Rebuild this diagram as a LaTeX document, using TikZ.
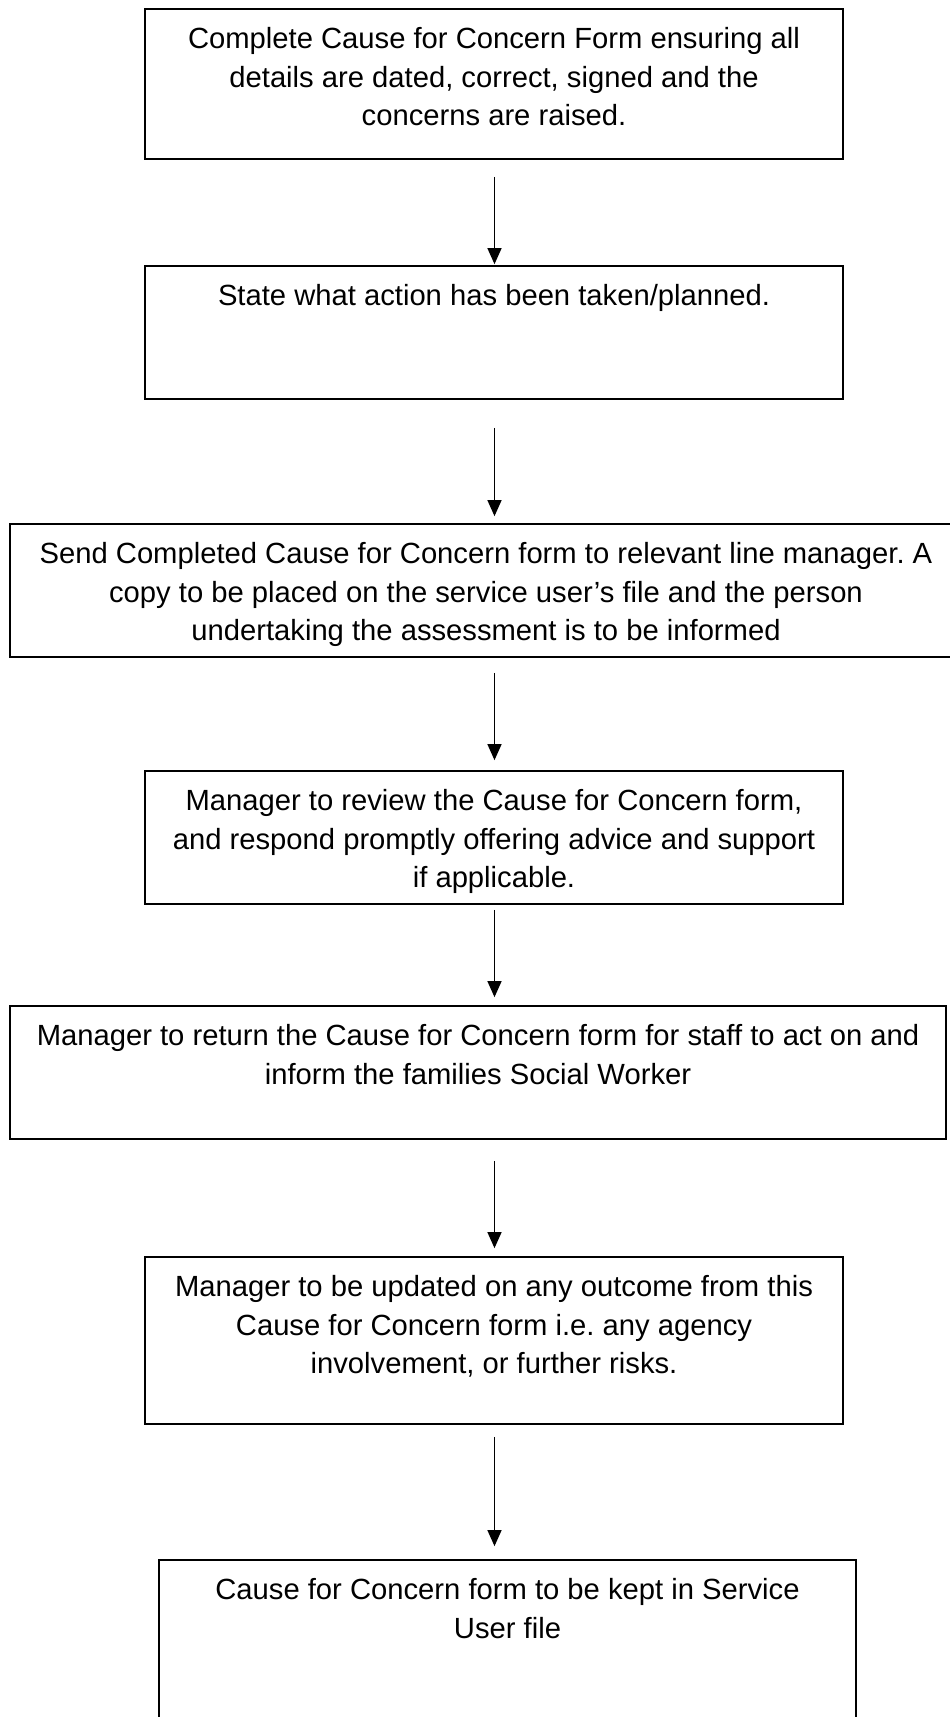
\documentclass[tikz,border=0pt]{standalone}
\usepackage{fontspec}
\setmainfont{Liberation Sans}
\usetikzlibrary{arrows.meta}
\frenchspacing
\begin{document}
\begin{tikzpicture}[x=1pt,y=-1pt,
  box/.style={draw=black, line width=1.7pt, rectangle, inner sep=0pt, minimum width=698pt},
  txt/.style={anchor=north, inner sep=0pt, align=center, font=\fontsize{29.2}{38.5}\selectfont\frenchspacing},
  arr/.style={line width=1.2pt, -{Triangle[length=16pt,width=14pt]}}]
\useasboundingbox (0,0) rectangle (950,1717);
\coordinate (ax) at (494.5,0);
% boxes
\node[box, minimum height=150pt] (b1) at (494,84) {};
\node[box, minimum height=133pt] (b2) at (494,332.5) {};
\node[box, minimum height=133pt, minimum width=952pt] (b3) at (486,590.5) {};
\node[box, minimum height=133pt] (b4) at (494,837.5) {};
\node[box, minimum height=133pt, minimum width=936pt] (b5) at (478,1072.5) {};
\node[box, minimum height=167pt] (b6) at (494,1340.5) {};
\node[box, minimum height=200pt, minimum width=697pt] (b7) at (507.5,1660) {};
% texts
\node[txt] (t1) at ([yshift=-19pt]b1.north) {Complete Cause for Concern Form ensuring all\\details are dated, correct, signed and the\\concerns are raised.};
\node[txt] (t2) at ([yshift=-19pt]b2.north) {State what action has been taken/planned.};
\node[txt] (t3) at ([yshift=-19pt]b3.north) {Send Completed Cause for Concern form to relevant line manager. A\\copy to be placed on the service user’s file and the person\\undertaking the assessment is to be informed};
\node[txt] (t4) at ([yshift=-19pt]b4.north) {Manager to review the Cause for Concern form,\\and respond promptly offering advice and support\\if applicable.};
\node[txt] (t5) at ([yshift=-19pt]b5.north) {Manager to return the Cause for Concern form for staff to act on and\\inform the families Social Worker};
\node[txt] (t6) at ([yshift=-19pt]b6.north) {Manager to be updated on any outcome from this\\Cause for Concern form i.e. any agency\\involvement, or further risks.};
\node[txt] (t7) at ([yshift=-19pt]b7.north) {Cause for Concern form to be kept in Service\\User file};
% arrows
\draw[arr] ([yshift=-17pt]b1.south -| ax) -- ([yshift=1pt]b2.north -| ax);
\draw[arr] ([yshift=-28pt]b2.south -| ax) -- ([yshift=7pt]b3.north -| ax);
\draw[arr] ([yshift=-15pt]b3.south -| ax) -- ([yshift=10pt]b4.north -| ax);
\draw[arr] ([yshift=-5pt]b4.south -| ax) -- ([yshift=8pt]b5.north -| ax);
\draw[arr] ([yshift=-21pt]b5.south -| ax) -- ([yshift=8pt]b6.north -| ax);
\draw[arr] ([yshift=-12pt]b6.south -| ax) -- ([yshift=13pt]b7.north -| ax);
\end{tikzpicture}
\end{document}
